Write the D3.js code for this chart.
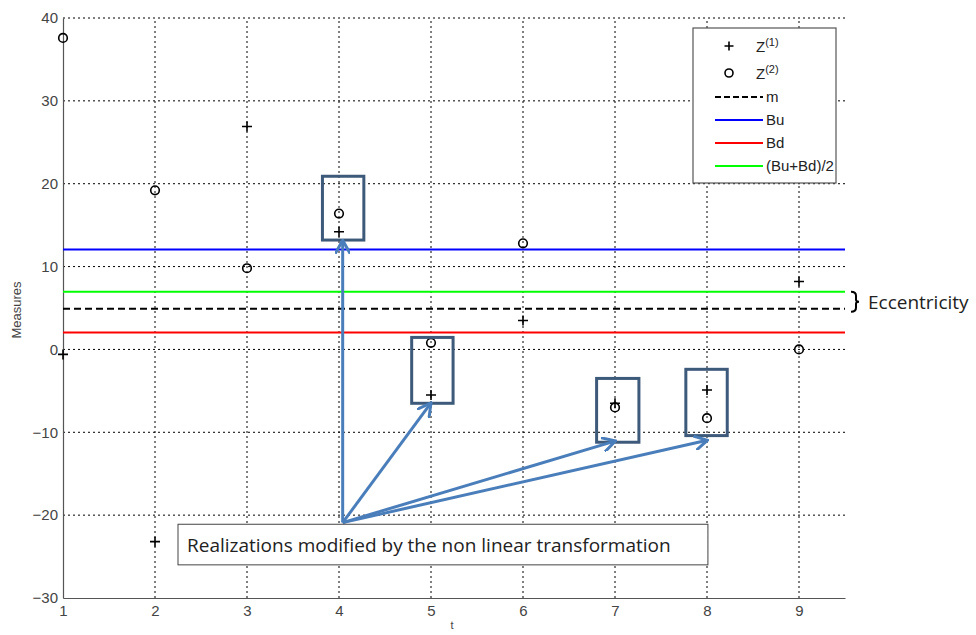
<!DOCTYPE html>
<html><head><meta charset="utf-8">
<script src="https://cdn.jsdelivr.net/npm/d3@7"></script>
<style>body{margin:0;background:#fff;} svg{display:block;}</style>
</head><body>
<script>
const tValues = [1,2,3,4,5,6,7,8,9];
const z1 = [-0.6,-23.2,26.9,14.2,-5.5,3.5,-6.5,-4.9,8.2];
const z2 = [37.6,19.2,9.8,16.4,0.8,12.8,-7.0,-8.3,0.0];
const mValue = 4.9, buValue = 12.05, bdValue = 2.05, midValue = 6.95;
const xTicks = [1,2,3,4,5,6,7,8,9];
const yTicks = [-30,-20,-10,0,10,20,30,40];
// annotation boxes in data units [t0,t1,yTop,yBottom]
const boxes = [[3.82,4.27,20.9,13.2],[4.79,5.24,1.45,-6.5],[6.8,7.26,-3.5,-11.2],[7.77,8.22,-2.4,-10.4]];
const arrowOrigin = [4.04,-20.9];
const arrowTargets = [[4.04,13.0],[4.99,-6.6],[6.99,-11.1],[7.99,-11.0]];
const noteBox = [2.25,8.01,-21.1,-26.0];

const W=976,H=635;
const svg=d3.select("body").append("svg").attr("width",W).attr("height",H);
const x=d3.scaleLinear().domain([1,9.5]).range([63,845]);
const y=d3.scaleLinear().domain([-30,40]).range([598,18]);
const grid="#000";
// grid
svg.append("g").selectAll("line").data(yTicks.filter(d=>d>-30)).join("line")
 .attr("x1",x(1)).attr("x2",x(9.5)).attr("y1",d=>y(d)).attr("y2",d=>y(d))
 .attr("stroke",grid).attr("stroke-width",1).attr("stroke-dasharray","2,3");
svg.append("g").selectAll("line").data(xTicks.filter(d=>d>1)).join("line")
 .attr("x1",d=>x(d)).attr("x2",d=>x(d)).attr("y1",y(-30)).attr("y2",y(40))
 .attr("stroke",grid).attr("stroke-width",1).attr("stroke-dasharray","2,3");
// axes
const gx=svg.append("g").attr("transform",`translate(0,${y(-30)})`)
 .call(d3.axisBottom(x).tickValues(xTicks).tickSize(0).tickPadding(6).tickFormat(d3.format("d")));
const gy=svg.append("g").attr("transform",`translate(${x(1)},0)`)
 .call(d3.axisLeft(y).tickValues(yTicks).tickSize(0).tickPadding(5).tickFormat(d3.format("d")));
[gx,gy].forEach(g=>{g.attr("font-size",15).attr("font-family","Liberation Sans, Arial");
 g.select(".domain").attr("stroke","#555").attr("stroke-width",1.2);
 g.selectAll("text").attr("fill","#444");});
gx.selectAll("text").attr("dy","0.8em");
svg.append("text").attr("x",452).attr("y",629).attr("text-anchor","middle").attr("fill","#444")
 .style("font-family","Liberation Sans, Arial").style("font-size","11px").text("t");
svg.append("text").attr("transform","translate(21,310) rotate(-90)").attr("text-anchor","middle").attr("fill","#444")
 .style("font-family","Liberation Sans, Arial").style("font-size","13px").text("Measures");
// horizontal reference lines
const hl=(v,c,dash)=>svg.append("line").attr("x1",x(1)).attr("x2",x(9.5)).attr("y1",y(v)).attr("y2",y(v))
 .attr("stroke",c).attr("stroke-width",2).attr("stroke-dasharray",dash||null);
hl(buValue,"#0000ff"); hl(midValue,"#00ff00"); hl(bdValue,"#ff0000"); hl(mValue,"#000","7,4");
// markers
const plus=(g,cx,cy,s)=>{g.append("path").attr("d",`M${cx-s},${cy}H${cx+s}M${cx},${cy-s}V${cy+s}`).attr("stroke","#000").attr("stroke-width",1.6);};
const mk=svg.append("g");
tValues.forEach((t,i)=>plus(mk,x(t),y(z1[i]),5));
mk.selectAll("circle").data(tValues).join("circle").attr("cx",d=>x(d)).attr("cy",(d,i)=>y(z2[i])).attr("r",4.3)
 .attr("fill","none").attr("stroke","#000").attr("stroke-width",1.6);
// annotation boxes
const boxColor="#3d5a7a";
svg.append("g").selectAll("rect").data(boxes).join("rect")
 .attr("x",d=>x(d[0])).attr("y",d=>y(d[2])).attr("width",d=>x(d[1])-x(d[0])).attr("height",d=>y(d[3])-y(d[2]))
 .attr("fill","none").attr("stroke",boxColor).attr("stroke-width",3);
// arrows
const defs=svg.append("defs");
defs.append("marker").attr("id","ah").attr("viewBox","0 0 10 10").attr("refX",8).attr("refY",5)
 .attr("markerWidth",5).attr("markerHeight",5).attr("orient","auto-start-reverse")
 .append("path").attr("d","M0,0L9,5L0,10").attr("fill","none").attr("stroke","#4a7ebb").attr("stroke-width",2);
svg.append("g").selectAll("line").data(arrowTargets).join("line")
 .attr("x1",x(arrowOrigin[0])).attr("y1",y(arrowOrigin[1])).attr("x2",d=>x(d[0])).attr("y2",d=>y(d[1]))
 .attr("stroke","#4a7ebb").attr("stroke-width",3).attr("marker-end","url(#ah)");
// note box
svg.append("rect").attr("x",x(noteBox[0])).attr("y",y(noteBox[2])).attr("width",x(noteBox[1])-x(noteBox[0])).attr("height",y(noteBox[3])-y(noteBox[2]))
 .attr("fill","#fff").attr("stroke","#444").attr("stroke-width",1);
svg.append("text").attr("x",x(noteBox[0])+9).attr("y",(y(noteBox[2])+y(noteBox[3]))/2+7).attr("fill","#222")
 .style("font-family","Open Sans, sans-serif").style("font-size","19px").text("Realizations modified by the non linear transformation");
// eccentricity brace
svg.append("path").attr("d",`M851,${y(midValue)} q5,0 5,4 v4 q0,2 3,2 q-3,0 -3,2 v4 q0,4 -5,4`)
 .attr("fill","none").attr("stroke","#000").attr("stroke-width",2);
svg.append("text").attr("x",868).attr("y",309).attr("fill","#222").style("font-family","Open Sans, sans-serif")
 .style("font-size","19px").text("Eccentricity");
// legend
const lg=svg.append("g").attr("transform","translate(693,28)");
lg.append("rect").attr("width",143).attr("height",155).attr("fill","#fff").attr("stroke","#555").attr("stroke-width",1.2);
const lf=s=>s.style("font-family","Liberation Sans, Arial").style("font-size","15px").attr("fill","#222");
plus(lg,36,18,4.5);
lg.append("circle").attr("cx",36).attr("cy",45).attr("r",4).attr("fill","none").attr("stroke","#000").attr("stroke-width",1.6);
const t1=lf(lg.append("text").attr("x",63).attr("y",24)); t1.append("tspan").text("Z"); t1.append("tspan").attr("dy",-6).style("font-size","11px").text("(1)");
const t2=lf(lg.append("text").attr("x",63).attr("y",51)); t2.append("tspan").text("Z"); t2.append("tspan").attr("dy",-6).style("font-size","11px").text("(2)");
const items=[["m","#000","6,3"],["Bu","#0000ff",null],["Bd","#ff0000",null],["(Bu+Bd)/2","#00ff00",null]];
items.forEach((it,i)=>{const yy=69+i*23;
 lg.append("line").attr("x1",22).attr("x2",70).attr("y1",yy).attr("y2",yy).attr("stroke",it[1]).attr("stroke-width",2).attr("stroke-dasharray",it[2]);
 lf(lg.append("text").attr("x",73).attr("y",yy+5)).text(it[0]);});
</script>
</body></html>
